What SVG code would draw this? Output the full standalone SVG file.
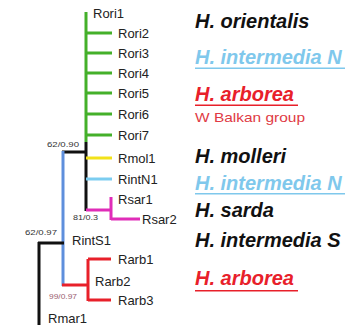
<svg xmlns="http://www.w3.org/2000/svg" width="359" height="325" viewBox="0 0 359 325">
<style>
.tip{font-family:"Liberation Sans",Arial,sans-serif;font-size:13px;fill:#222}
.sup{font-family:"Liberation Sans",Arial,sans-serif;font-size:8px;fill:#333}
.sp{font-family:"Liberation Sans",Arial,sans-serif;font-size:20px;font-weight:bold;font-style:italic}
.br{fill:none;stroke-width:3;stroke-linecap:butt}
.g{stroke:#44b02a}.k{stroke:#111}.y{stroke:#f2e21a}.lb{stroke:#7ccdf0}.m{stroke:#e02cb8}.b{stroke:#5e8fdc}.r{stroke:#e8202a}
</style>
<rect width="359" height="325" fill="#fff"/>
<g id="connectors">
<path class="br g" d="M86 12V142M86 33H112M86 53H112M86 73H112M86 93H112M86 114H112M86 135H112"/>
<path class="br k" d="M86 142V211M62 152H87"/>
<path class="br y" d="M86 158H112"/>
<path class="br lb" d="M86 179H112"/>
<path class="br m" d="M86 210H111M111 197V220M111 219H140"/>
<path class="br b" d="M63 151V286"/>
<path class="br k" d="M38 243H64M39 242V325"/>
<path class="br r" d="M62 285H89M88 259V301M88 259H111M88 300H111"/>
</g>
<g id="Rori1"><text class="tip" x="93" y="17.5">Rori1</text></g>
<g id="Rori2"><text class="tip" x="118" y="37.5">Rori2</text></g>
<g id="Rori3"><text class="tip" x="118" y="57.5">Rori3</text></g>
<g id="Rori4"><text class="tip" x="118" y="77.5">Rori4</text></g>
<g id="Rori5"><text class="tip" x="118" y="97.5">Rori5</text></g>
<g id="Rori6"><text class="tip" x="118" y="118.5">Rori6</text></g>
<g id="Rori7"><text class="tip" x="118" y="139.5">Rori7</text></g>
<g id="Rmol1"><text class="tip" x="118" y="162.5">Rmol1</text></g>
<g id="RintN1"><text class="tip" x="118" y="183.5">RintN1</text></g>
<g id="Rsar1"><text class="tip" x="118" y="203.5">Rsar1</text></g>
<g id="Rsar2"><text class="tip" x="142" y="223.5">Rsar2</text></g>
<g id="RintS1"><text class="tip" x="72" y="244.5">RintS1</text></g>
<g id="Rarb1"><text class="tip" x="118" y="263.5">Rarb1</text></g>
<g id="Rarb2"><text class="tip" x="95" y="285.5">Rarb2</text></g>
<g id="Rarb3"><text class="tip" x="118" y="304.5">Rarb3</text></g>
<g id="Rmar1"><text class="tip" x="48" y="323">Rmar1</text></g>
<g id="support">
<text class="sup" x="47" y="147" textLength="32" lengthAdjust="spacingAndGlyphs">62/0.90</text>
<text class="sup" x="73" y="220" textLength="25" lengthAdjust="spacingAndGlyphs">81/0.3</text>
<text class="sup" x="25" y="235" textLength="32" lengthAdjust="spacingAndGlyphs">62/0.97</text>
<text class="sup" x="49" y="299" textLength="28" lengthAdjust="spacingAndGlyphs" style="fill:#9a6070">99/0.97</text>
</g>
<g id="sp-orientalis"><text class="sp" x="195" y="28" fill="#111">H. orientalis</text></g>
<g id="sp-intermediaN-1"><text class="sp" x="195" y="64" fill="#7fc8ec">H. intermedia N</text><rect x="195" y="67.5" width="150" height="1.5" fill="#7fc8ec"/></g>
<g id="sp-arborea-1"><text class="sp" x="195" y="101" fill="#e8202a">H. arborea</text><rect x="195" y="104.5" width="103" height="1.5" fill="#e8202a"/>
<text x="195" y="122" fill="#e03a44" style="font-family:'Liberation Sans',Arial,sans-serif;font-size:13px" textLength="110" lengthAdjust="spacingAndGlyphs">W Balkan group</text></g>
<g id="sp-molleri"><text class="sp" x="195" y="163" fill="#111">H. molleri</text></g>
<g id="sp-intermediaN-2"><text class="sp" x="195" y="190" fill="#7fc8ec">H. intermedia N</text><rect x="195" y="193" width="150" height="1.5" fill="#7fc8ec"/></g>
<g id="sp-sarda"><text class="sp" x="195" y="217" fill="#111">H. sarda</text></g>
<g id="sp-intermediaS"><text class="sp" x="195" y="247" fill="#111">H. intermedia S</text></g>
<g id="sp-arborea-2"><text class="sp" x="195" y="285" fill="#e8202a">H. arborea</text><rect x="195" y="290" width="103" height="1.5" fill="#e8202a"/></g>
</svg>
